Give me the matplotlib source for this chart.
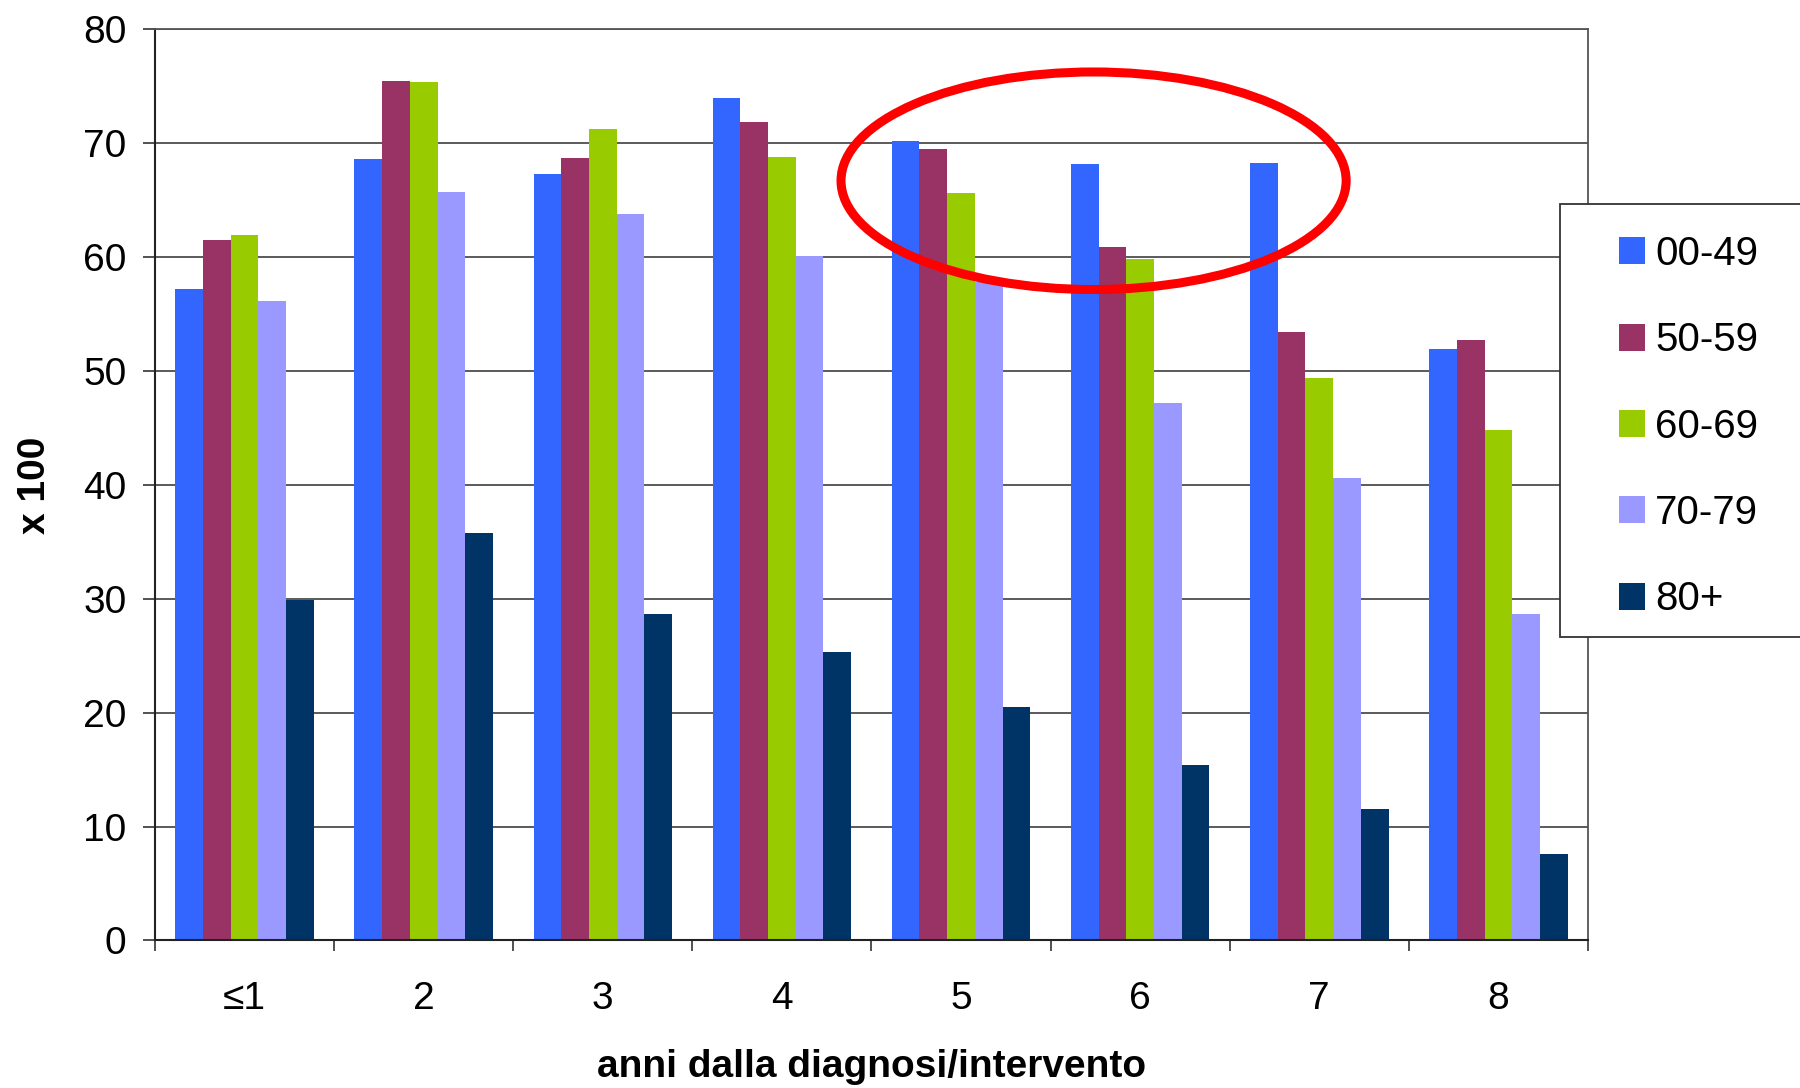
import matplotlib.pyplot as plt
import numpy as np
from matplotlib.patches import Ellipse, Rectangle

plt.rcParams['font.family'] = ['Liberation Sans', 'DejaVu Sans']

# data
categories = ['≤1', '2', '3', '4', '5', '6', '7', '8']
groups = ['00-49', '50-59', '60-69', '70-79', '80+']
v_00_49 = [57.2, 68.6, 67.3, 74.0, 70.2, 68.2, 68.3, 51.9]
v_50_59 = [61.5, 75.5, 68.7, 71.9, 69.5, 60.9, 53.4, 52.7]
v_60_69 = [61.9, 75.4, 71.2, 68.8, 65.6, 59.8, 49.4, 44.8]
v_70_79 = [56.1, 65.7, 63.8, 60.1, 57.8, 47.2, 40.6, 28.7]
v_80p = [29.9, 35.8, 28.7, 25.3, 20.5, 15.4, 11.5, 7.6]
colors = ['#3366FF', '#993366', '#99CC00', '#9999FF', '#003366']

# highlight ellipse (center x, center y, width, height) in data units
ell_center = (4.74, 66.7)
ell_size = (2.82, 19.1)

series = [v_00_49, v_50_59, v_60_69, v_70_79, v_80p]

fig = plt.figure(figsize=(18, 10.88), dpi=100)
ax = fig.add_axes([0.0861, 0.1356, 0.7961, 0.8375])

x = np.arange(len(categories))
bw = 0.1547
for i, vals in enumerate(series):
    ax.bar(x + (i - 2) * bw, vals, width=bw, color=colors[i], label=groups[i], zorder=2)

ax.set_xlim(-0.5, len(categories) - 0.5)
ax.set_ylim(0, 80)
ax.set_yticks(np.arange(0, 81, 10))
ax.yaxis.grid(True, color='#4d4d4d', linewidth=1.3, zorder=0)
ax.set_axisbelow(True)

ax.set_xticks(x)
ax.set_xticklabels(categories)
ax.set_xticks(np.arange(-0.5, len(categories)), minor=True)
ax.tick_params(axis='x', which='major', length=0, labelsize=28, pad=29)
ax.tick_params(axis='x', which='minor', length=8, width=1.2, color='#333333')
ax.tick_params(axis='y', length=8.5, width=1.2, color='#333333', labelsize=28, pad=12)

for side in ['left', 'bottom']:
    ax.spines[side].set_color('#222222')
    ax.spines[side].set_linewidth(1.5)
for side in ['top', 'right']:
    ax.spines[side].set_color('#555555')
    ax.spines[side].set_linewidth(1.3)

ax.set_xlabel('anni dalla diagnosi/intervento', fontsize=28, fontweight='bold', labelpad=23)
ax.set_ylabel('x 100', fontsize=28, fontweight='bold', labelpad=21.5)

ax.add_patch(Ellipse(ell_center, ell_size[0], ell_size[1], fill=False,
                     edgecolor='#FF0000', linewidth=6.5, zorder=5))

# legend box running off the right edge
fig.patches.append(Rectangle((1559.7 / 1800, 1 - 637 / 1088), 0.2, (637 - 204) / 1088,
                             transform=fig.transFigure, facecolor='white',
                             edgecolor='#333333', linewidth=1.3, zorder=3))
fig.legend(loc='upper left', bbox_to_anchor=(1619 / 1800, 1 - 235 / 1088), frameon=False,
           fontsize=29, handlelength=0.65, handleheight=0.65, handletextpad=0.25,
           labelspacing=1.2, borderpad=0, borderaxespad=0)

fig.savefig('out.png', dpi=100)
